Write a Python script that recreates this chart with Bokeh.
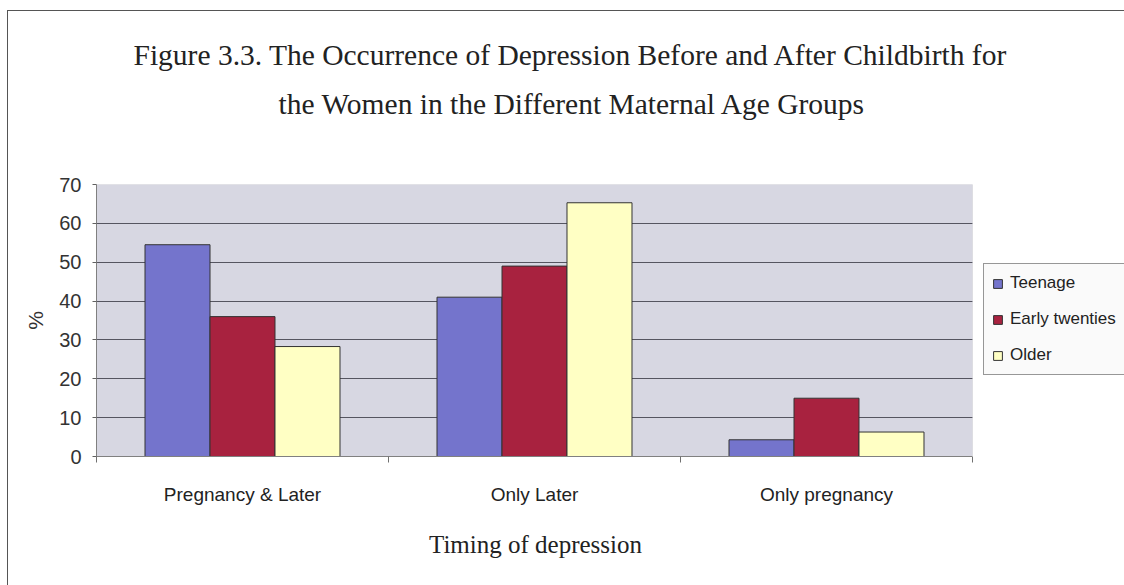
from bokeh.plotting import figure
from bokeh.models import (ColumnDataSource, Range1d, FixedTicker, Title, Legend,
                          LegendItem, BoxAnnotation)
from bokeh.embed import file_html
from bokeh.resources import INLINE

categories = ["Pregnancy & Later", "Only Later", "Only pregnancy"]
series = ["Teenage", "Early twenties", "Older"]
teenage = [54.5, 41, 4.3]
early_twenties = [36, 49, 15]
older = [28.3, 65.3, 6.3]
y_ticks = [0, 10, 20, 30, 40, 50, 60, 70]

colors = ["#7474cc", "#a8223f", "#ffffc4"]
values = [teenage, early_twenties, older]

W, H = 1124, 585
left_px, plot_right_px = 96, 972
n = len(categories)
x_end = n * (W - left_px) / (plot_right_px - left_px)

p = figure(width=W, height=H, output_backend="svg", toolbar_location=None,
           x_range=Range1d(0, x_end), y_range=Range1d(0, 70),
           min_border_left=left_px, min_border_right=0, min_border_top=184,
           min_border_bottom=129, title=None)

p.background_fill_color = "#ffffff"
p.border_fill_color = "#ffffff"
p.border_fill_alpha = 0
p.outline_line_color = None
p.styles = {
    "background-color": "#ffffff",
    "background-image": "linear-gradient(#555555,#555555), linear-gradient(#555555,#555555)",
    "background-size": "1px 100%, 100% 1px",
    "background-position": "7px 10px, 7px 10px",
    "background-repeat": "no-repeat",
}

# plot-area background (under the grid)
p.add_layout(BoxAnnotation(left=-1, right=n, top=100, bottom=-10, level="image",
                           fill_color="#d7d7e2", fill_alpha=1.0, line_color=None))

bw = 0.2226
centers = [i + 0.5 for i in range(n)]
renderers = []
for k, (vals, col) in enumerate(zip(values, colors)):
    src = ColumnDataSource(dict(x=[c + (k - 1) * bw for c in centers], top=vals))
    r = p.vbar(x="x", top="top", width=bw, bottom=0, source=src,
               fill_color=col, line_color="#333333", line_width=1)
    renderers.append(r)

# white legend zone right of the plot area (hides grid lines there)
p.add_layout(BoxAnnotation(left=n, right=x_end + 1, top=100, bottom=-10,
                           fill_color="#ffffff", fill_alpha=1.0, line_color=None))
# faint plot-area border (top and right)
p.add_layout(BoxAnnotation(left=-1, right=n, top=70, bottom=-10,
                           fill_alpha=0, line_color="#a4a4b0", line_width=1))

# axes
xax = p.xaxis[0]
xax.bounds = (0, n)
xax.ticker = FixedTicker(ticks=centers, minor_ticks=list(range(n + 1)))
xax.major_label_overrides = {c: lab for c, lab in zip(centers, categories)}
xax.major_tick_line_color = None
xax.major_tick_out = 5
xax.major_tick_in = 0
xax.minor_tick_line_color = "#707070"
xax.minor_tick_out = 6
xax.minor_tick_in = 0
xax.axis_line_color = "#808080"
xax.major_label_standoff = 21
xax.major_label_text_font = "Liberation Sans"
xax.major_label_text_font_size = "19px"
xax.major_label_text_color = "#222222"
# trailing no-break spaces shift the centred label over the plot area
xax.axis_label = "Timing of depression" + "\u00a0" * 24
xax.axis_label_text_font = "Liberation Serif"
xax.axis_label_text_font_style = "normal"
xax.axis_label_text_font_size = "25px"
xax.axis_label_text_color = "#222222"
xax.axis_label_standoff = 23

yax = p.yaxis[0]
yax.ticker = FixedTicker(ticks=y_ticks, minor_ticks=[])
yax.major_tick_out = 4
yax.major_tick_in = 0
yax.major_tick_line_color = "#606060"
yax.axis_line_color = "#808080"
yax.major_label_standoff = 11
yax.major_label_text_font = "Liberation Sans"
yax.major_label_text_font_size = "20px"
yax.major_label_text_color = "#333333"
yax.axis_label = "%"
yax.axis_label_text_font = "Liberation Sans"
yax.axis_label_text_font_style = "normal"
yax.axis_label_text_font_size = "21px"
yax.axis_label_text_color = "#333333"
yax.axis_label_standoff = 9

p.xgrid.grid_line_color = None
p.ygrid.grid_line_color = "#555560"
p.ygrid.grid_line_width = 1
p.ygrid.bounds = (0, 60)

title_lines = ["Figure 3.3. The Occurrence of Depression Before and After Childbirth for",
               "the Women in the Different Maternal Age Groups"]
spacer = Title(text=" ", text_font_size="1px", standoff=62)
t2 = Title(text=title_lines[1], align="left", offset=182, text_font="Liberation Serif",
           text_font_size="29.5px", text_font_style="normal", text_color="#222222",
           standoff=0)
t1 = Title(text=title_lines[0], align="left", offset=37, text_font="Liberation Serif",
           text_font_size="29.5px", text_font_style="normal", text_color="#222222",
           standoff=30)
p.add_layout(spacer, "above")
p.add_layout(t2, "above")
p.add_layout(t1, "above")

legend = Legend(items=[LegendItem(label=s, renderers=[r]) for s, r in zip(series, renderers)],
                location=(887, 81), orientation="vertical",
                glyph_width=11, glyph_height=11, label_standoff=7, spacing=14,
                label_height=22, padding=8, margin=0, label_text_font="Liberation Sans",
                label_text_font_size="17px", label_text_color="#222222",
                border_line_color="#333333", background_fill_color="#fafafa",
                background_fill_alpha=1.0)
p.add_layout(legend, "center")

open("out.html", "w").write(file_html(p, INLINE))
